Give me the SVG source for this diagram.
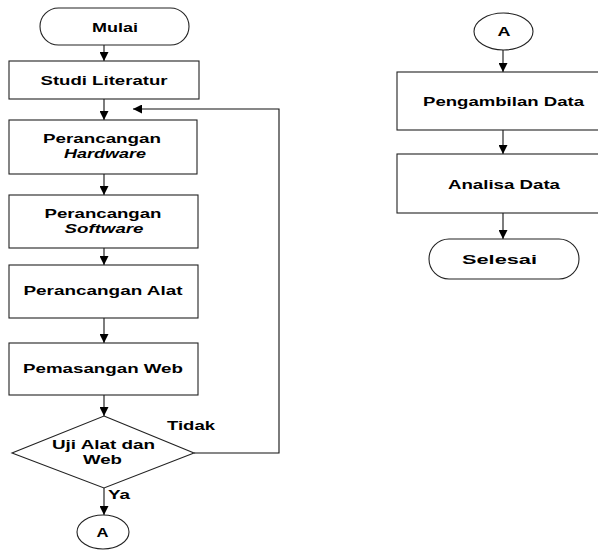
<svg xmlns="http://www.w3.org/2000/svg" width="598" height="550" viewBox="0 0 598 550">
<defs>
<marker id="ah" markerUnits="userSpaceOnUse" markerWidth="9" markerHeight="9" refX="9" refY="4.5" orient="auto">
<path d="M0,0 L9,4.5 L0,9 z" fill="#000"/>
</marker>
<style>
.s{fill:#fff;stroke:#222;stroke-width:1.1}
.c{fill:none;stroke:#111;stroke-width:1.1}
text{font-family:"Liberation Sans",Arial,sans-serif;font-size:13px;font-weight:bold;fill:#000;text-anchor:middle}
.i{font-style:italic}
</style>
</defs>
<rect width="598" height="550" fill="#fff"/>
<g id="connectors">
<line class="c" x1="104" y1="45" x2="104" y2="61" marker-end="url(#ah)"/>
<line class="c" x1="104" y1="99" x2="104" y2="120" marker-end="url(#ah)"/>
<line class="c" x1="104" y1="174" x2="104" y2="195" marker-end="url(#ah)"/>
<line class="c" x1="104" y1="248" x2="104" y2="265" marker-end="url(#ah)"/>
<line class="c" x1="104" y1="318" x2="104" y2="343" marker-end="url(#ah)"/>
<line class="c" x1="104" y1="395" x2="104" y2="416" marker-end="url(#ah)"/>
<line class="c" x1="104" y1="488" x2="104" y2="515" marker-end="url(#ah)"/>
<polyline class="c" points="194,453 279,453 279,109 133,109" marker-end="url(#ah)"/>
<line class="c" x1="503" y1="50" x2="503" y2="72" marker-end="url(#ah)"/>
<line class="c" x1="503" y1="130" x2="503" y2="154" marker-end="url(#ah)"/>
<line class="c" x1="503" y1="213" x2="503" y2="239" marker-end="url(#ah)"/>
<text x="191" y="430" textLength="48" lengthAdjust="spacingAndGlyphs">Tidak</text>
<text x="119" y="499" textLength="22" lengthAdjust="spacingAndGlyphs">Ya</text>
</g>
<g id="mulai">
<rect class="s" x="40" y="8" width="149" height="37" rx="18.5"/>
<text x="115" y="32" textLength="46" lengthAdjust="spacingAndGlyphs">Mulai</text>
</g>
<g id="studi">
<rect class="s" x="9" y="61" width="190" height="38"/>
<text x="104" y="85" textLength="127" lengthAdjust="spacingAndGlyphs">Studi Literatur</text>
</g>
<g id="hardware">
<rect class="s" x="9" y="120" width="188" height="54"/>
<text x="102" y="143" textLength="118" lengthAdjust="spacingAndGlyphs">Perancangan</text>
<text class="i" x="105" y="158" textLength="82" lengthAdjust="spacingAndGlyphs">Hardware</text>
</g>
<g id="software">
<rect class="s" x="9" y="195" width="189" height="53"/>
<text x="103" y="218" textLength="117" lengthAdjust="spacingAndGlyphs">Perancangan</text>
<text class="i" x="104" y="233" textLength="79" lengthAdjust="spacingAndGlyphs">Software</text>
</g>
<g id="alat">
<rect class="s" x="9" y="265" width="189" height="53"/>
<text x="103" y="295" textLength="159" lengthAdjust="spacingAndGlyphs">Perancangan Alat</text>
</g>
<g id="web">
<rect class="s" x="9" y="343" width="189" height="52"/>
<text x="103" y="373" textLength="160" lengthAdjust="spacingAndGlyphs">Pemasangan Web</text>
</g>
<g id="uji">
<polygon class="s" points="104,416 194,453 104,488 12,453"/>
<text x="103.5" y="449" textLength="103" lengthAdjust="spacingAndGlyphs">Uji Alat dan</text>
<text x="102.5" y="464" textLength="39" lengthAdjust="spacingAndGlyphs">Web</text>
</g>
<g id="a1">
<ellipse class="s" cx="103" cy="532" rx="26" ry="17"/>
<text x="102.5" y="537" textLength="12" lengthAdjust="spacingAndGlyphs">A</text>
</g>
<g id="a2">
<ellipse class="s" cx="503.5" cy="31.5" rx="29.5" ry="18.5"/>
<text x="504" y="36" textLength="13" lengthAdjust="spacingAndGlyphs">A</text>
</g>
<g id="pengambilan">
<rect class="s" x="397" y="72" width="213" height="58"/>
<text x="503.5" y="106" textLength="161" lengthAdjust="spacingAndGlyphs">Pengambilan Data</text>
</g>
<g id="analisa">
<rect class="s" x="397" y="154" width="213" height="59"/>
<text x="504" y="189" textLength="112" lengthAdjust="spacingAndGlyphs">Analisa Data</text>
</g>
<g id="selesai">
<rect class="s" x="429" y="239" width="150" height="40" rx="20"/>
<text x="499.5" y="264" textLength="75" lengthAdjust="spacingAndGlyphs">Selesai</text>
</g>
</svg>
